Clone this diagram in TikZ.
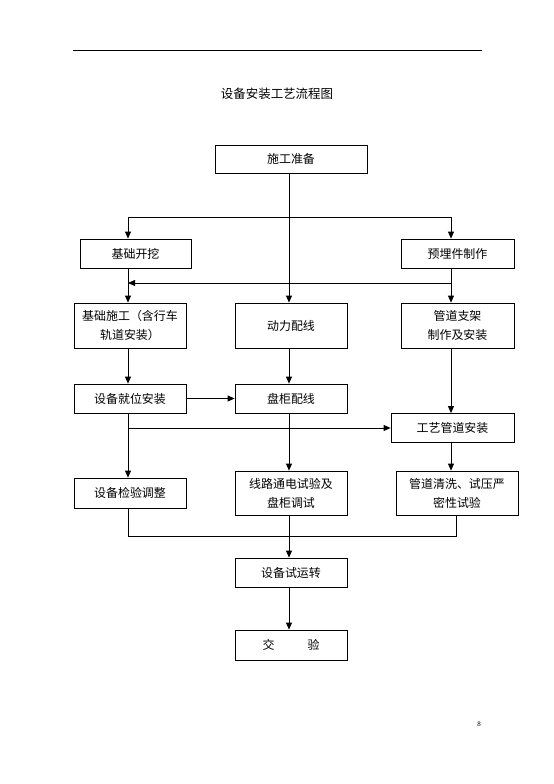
\documentclass[tikz,border=0pt]{standalone}
\usepackage{fontspec}
\setmainfont{Noto Sans CJK SC}
\newfontfamily\numfont{Liberation Serif}
\usetikzlibrary{arrows.meta}
\begin{document}
\begin{tikzpicture}[x=1bp,y=-1bp,
  box/.style={draw, line width=0.8bp, inner sep=0pt, align=center,
    font=\fontsize{12}{19}\selectfont},
  conn/.style={line width=0.8bp},
  arr/.style={conn, -{Triangle[length=7bp,width=6bp]}}]
\useasboundingbox (0,0) rectangle (554,784);
\draw[line width=0.8bp] (73,50) coordinate (tl) -- (482,50) coordinate (tr);
\node[font=\fontsize{12.5}{15}\selectfont] (title) at (277,94) {设备安装工艺流程图};
% columns
\coordinate (colL) at (128,0);
\coordinate (colC) at (289,0);
\coordinate (colR) at (451,0);
\coordinate (colQ) at (456,0);
% boxes
\node[box, minimum width=152bp, minimum height=28bp] (prep) at (291,159) {施工准备};
\node[box, minimum width=111bp, minimum height=29bp] (kw) at (135.5,253.5) {基础开挖};
\node[box, minimum width=113bp, minimum height=29bp] (ym) at (457.5,253.5) {预埋件制作};
\node[box, minimum width=112bp, minimum height=45bp] (jc) at (130,325.5) {基础施工（含行车\\轨道安装）};
\node[box, minimum width=112bp, minimum height=45bp] (dl) at (291,325.5) {动力配线};
\node[box, minimum width=113bp, minimum height=45bp] (gz) at (457.5,325.5) {管道支架\\制作及安装};
\node[box, minimum width=112bp, minimum height=29bp] (jw) at (130,398.5) {设备就位安装};
\node[box, minimum width=112bp, minimum height=29bp] (pg) at (291,398.5) {盘柜配线};
\node[box, minimum width=123bp, minimum height=29bp] (gy) at (452.5,428) {工艺管道安装};
\node[box, minimum width=112bp, minimum height=30bp] (jy) at (130,493) {设备检验调整};
\node[box, minimum width=112bp, minimum height=44bp] (xl) at (291,493) {线路通电试验及\\盘柜调试};
\node[box, minimum width=122bp, minimum height=44bp] (qx) at (457,493) {管道清洗、试压严\\密性试验};
\node[box, minimum width=112bp, minimum height=29bp] (sy) at (291,572.5) {设备试运转};
\node[box, minimum width=112bp, minimum height=30bp] (jyan) at (291,645) {交\hspace{33bp}验};
\node[font=\numfont\fontsize{7}{8}\selectfont] (pno) at (479,724) {8};
% connectors
\coordinate (b1) at (289,217);
\draw[arr] (prep.south -| colC) -- (dl.north -| colC);
\draw[arr] (b1) -| (kw.north -| colL);
\draw[arr] (b1) -| (ym.north -| colR);
\draw[arr] (kw.south -| colL) -- (jc.north -| colL);
\draw[arr] (ym.south -| colR) -- (gz.north -| colR);
\coordinate (b2) at (451,283);
\coordinate (b2l) at (128,283);
\draw[arr] (b2) -- (b2l);
\draw[arr] (dl.south -| colC) -- (pg.north -| colC);
\draw[arr] (jc.south -| colL) -- (jw.north -| colL);
\draw[arr] (jw.east) -- (pg.west);
\draw[arr] (gz.south -| colR) -- (gy.north -| colR);
\draw[arr] (jw.south -| colL) -- (jy.north -| colL);
\draw[arr] (gy.west -| colL) -- (gy.west);
\draw[arr] (pg.south -| colC) -- (xl.north -| colC);
\draw[arr] (gy.south -| colR) -- (qx.north -| colR);
\coordinate (m1) at (128,536);
\coordinate (m2) at (456,536);
\draw[conn] (jy.south -| colL) -- (m1) -- (m2) -- (qx.south -| colQ);
\draw[arr] (xl.south -| colC) -- (sy.north -| colC);
\draw[arr] (sy.south -| colC) -- (jyan.north -| colC);
\end{tikzpicture}
\end{document}
